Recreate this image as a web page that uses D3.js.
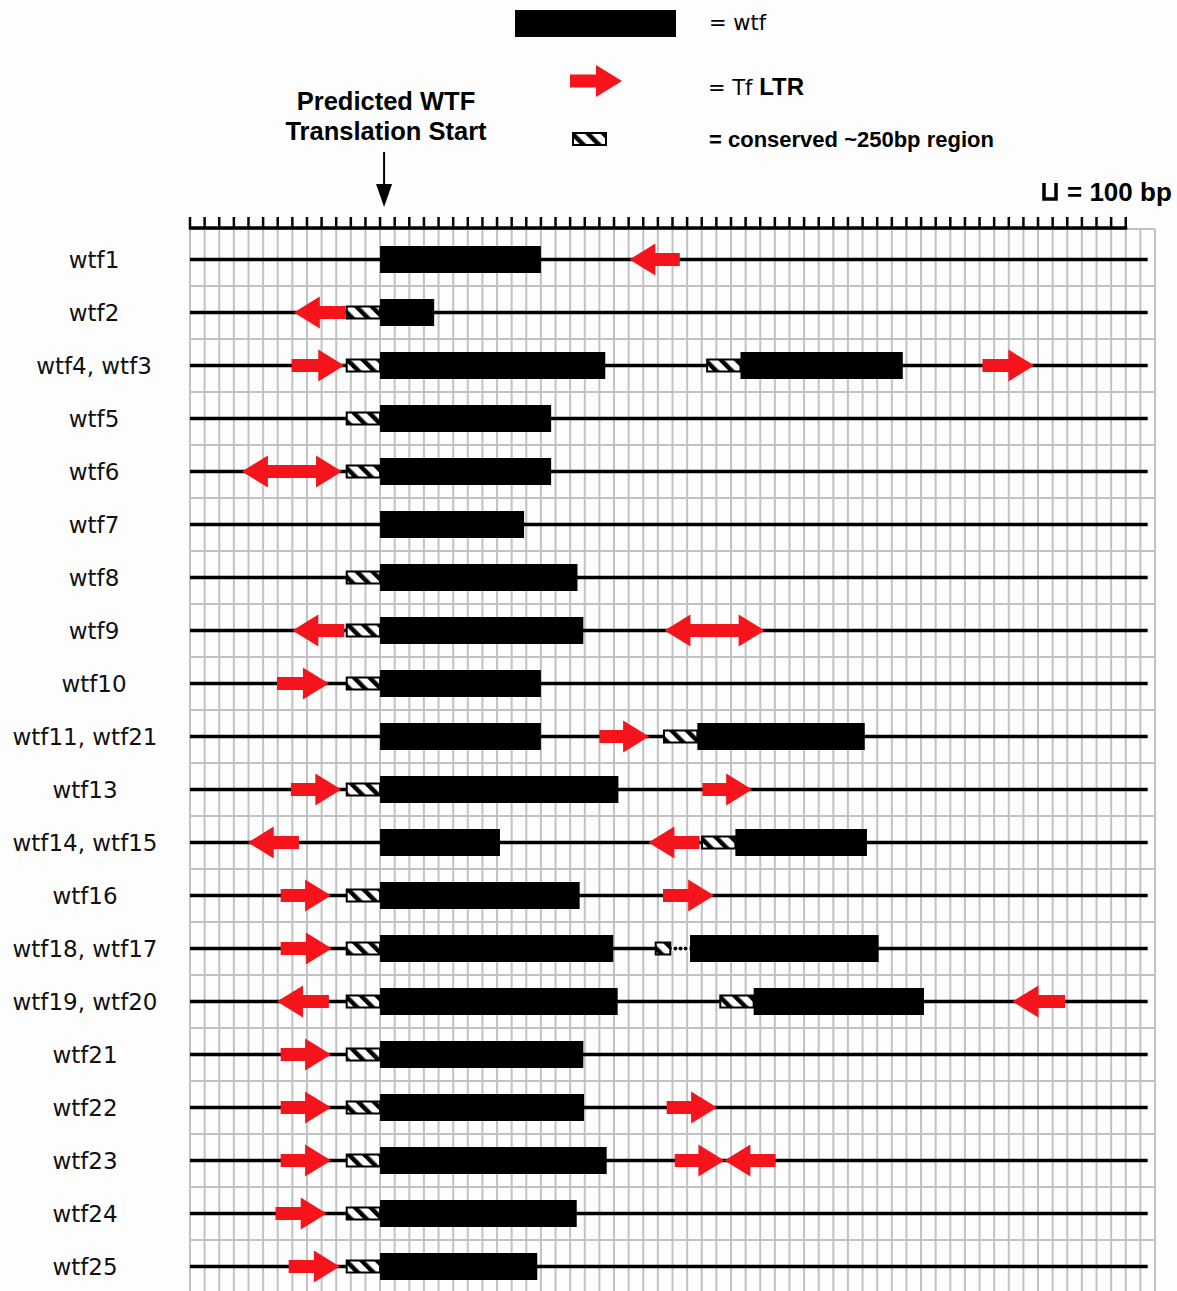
<!DOCTYPE html>
<html>
<head>
<meta charset="utf-8">
<script src="https://cdn.jsdelivr.net/npm/d3@7"></script>
<style>
  body { margin: 0; background: #fdfdfd; }
  svg { display: block; }
</style>
</head>
<body>
<div id="chart"></div>
<script>
// rows, top to bottom
var rows = ["wtf1", "wtf2", "wtf4, wtf3", "wtf5", "wtf6", "wtf7", "wtf8", "wtf9", "wtf10",
  "wtf11, wtf21", "wtf13", "wtf14, wtf15", "wtf16", "wtf18, wtf17", "wtf19, wtf20",
  "wtf21", "wtf22", "wtf23", "wtf24", "wtf25"];

// wtf coding regions, bp relative to predicted translation start
var wtfGenes = [
  ["wtf1", 0, 1100],
  ["wtf2", 0, 370],
  ["wtf4, wtf3", 0, 1540], ["wtf4, wtf3", 2465, 3575],
  ["wtf5", 0, 1170],
  ["wtf6", 0, 1170],
  ["wtf7", 0, 985],
  ["wtf8", 0, 1350],
  ["wtf9", 0, 1390],
  ["wtf10", 0, 1100],
  ["wtf11, wtf21", 0, 1100], ["wtf11, wtf21", 2170, 3315],
  ["wtf13", 0, 1630],
  ["wtf14, wtf15", 0, 820], ["wtf14, wtf15", 2430, 3330],
  ["wtf16", 0, 1365],
  ["wtf18, wtf17", 0, 1595], ["wtf18, wtf17", 2120, 3410],
  ["wtf19, wtf20", 0, 1625], ["wtf19, wtf20", 2555, 3720],
  ["wtf21", 0, 1390],
  ["wtf22", 0, 1395],
  ["wtf23", 0, 1550],
  ["wtf24", 0, 1345],
  ["wtf25", 0, 1075]
];

// conserved ~250bp regions
var conserved = [
  ["wtf2", -235, 0],
  ["wtf4, wtf3", -235, 0], ["wtf4, wtf3", 2230, 2465],
  ["wtf5", -235, 0],
  ["wtf6", -235, 0],
  ["wtf8", -235, 0],
  ["wtf9", -235, 0],
  ["wtf10", -235, 0],
  ["wtf11, wtf21", 1935, 2170],
  ["wtf13", -235, 0],
  ["wtf14, wtf15", 2195, 2430],
  ["wtf16", -235, 0],
  ["wtf18, wtf17", -235, 0],
  ["wtf19, wtf20", -235, 0], ["wtf19, wtf20", 2320, 2555],
  ["wtf21", -235, 0],
  ["wtf22", -235, 0],
  ["wtf23", -235, 0],
  ["wtf24", -235, 0],
  ["wtf25", -235, 0]
];

// partial conserved region (wtf18/wtf17) and its dotted gap
var partialConserved = [["wtf18, wtf17", 1885, 1985]];
var gapDots = [["wtf18, wtf17", 2020], ["wtf18, wtf17", 2055], ["wtf18, wtf17", 2090]];

// Tf LTRs: row, start, end, direction
var ltrs = [
  ["wtf1", 1705, 2050, "left"],
  ["wtf2", -590, -235, "left"],
  ["wtf4, wtf3", -605, -245, "right"], ["wtf4, wtf3", 4120, 4475, "right"],
  ["wtf6", -945, -260, "both"],
  ["wtf9", -600, -245, "left"], ["wtf9", 1945, 2630, "both"],
  ["wtf10", -705, -350, "right"],
  ["wtf11, wtf21", 1500, 1840, "right"],
  ["wtf13", -610, -265, "right"], ["wtf13", 2205, 2545, "right"],
  ["wtf14, wtf15", -905, -555, "left"], ["wtf14, wtf15", 1835, 2185, "left"],
  ["wtf16", -680, -335, "right"], ["wtf16", 1935, 2285, "right"],
  ["wtf18, wtf17", -680, -330, "right"],
  ["wtf19, wtf20", -705, -350, "left"], ["wtf19, wtf20", 4325, 4685, "left"],
  ["wtf21", -680, -335, "right"],
  ["wtf22", -680, -335, "right"], ["wtf22", 1960, 2305, "right"],
  ["wtf23", -680, -335, "right"], ["wtf23", 2015, 2355, "right"], ["wtf23", 2355, 2705, "left"],
  ["wtf24", -715, -365, "right"],
  ["wtf25", -625, -275, "right"]
];

var bpDomain = [-1300, 5300];
var lineEnd = 5250;
var scaleEnd = 5100;

var svgWidth = 1177, svgHeight = 1291;
var svg = d3.select("#chart").append("svg")
  .attr("width", svgWidth)
  .attr("height", svgHeight);

svg.append("rect").attr("width", svgWidth).attr("height", svgHeight).attr("fill", "#fdfdfd");

var x = d3.scaleLinear().domain(bpDomain).range([190, 1155]);
var y = d3.scaleBand().domain(rows).range([233, 1293]);
var cy = function(r) { return y(r) + y.bandwidth() / 2; };

// hatch pattern
var defs = svg.append("defs");
var pat = defs.append("pattern")
  .attr("id", "hatch")
  .attr("patternUnits", "userSpaceOnUse")
  .attr("width", 11).attr("height", 11)
  .attr("patternTransform", "rotate(-45)");
pat.append("rect").attr("width", 11).attr("height", 11).attr("fill", "#fff");
pat.append("rect").attr("width", 4.5).attr("height", 11).attr("fill", "#000");

// grid
var grid = svg.append("g");
grid.selectAll("line.v")
  .data(d3.range(bpDomain[0], bpDomain[1] + 1, 100))
  .enter().append("line")
  .attr("x1", d => x(d)).attr("x2", d => x(d))
  .attr("y1", 229).attr("y2", svgHeight)
  .attr("stroke", "#c2c2c2").attr("stroke-width", 2);
grid.selectAll("line.h")
  .data(rows.slice(1).map(r => y(r)).concat([229]))
  .enter().append("line")
  .attr("x1", 190).attr("x2", x(bpDomain[1]))
  .attr("y1", d => d).attr("y2", d => d)
  .attr("stroke", "#c2c2c2").attr("stroke-width", 2);

// scale bar with ticks
var scaleBar = svg.append("g");
scaleBar.append("line")
  .attr("x1", x(bpDomain[0]) - 1).attr("x2", x(scaleEnd) + 1.5)
  .attr("y1", 228).attr("y2", 228)
  .attr("stroke", "#000").attr("stroke-width", 3.5);
scaleBar.selectAll("line.t")
  .data(d3.range(bpDomain[0], scaleEnd + 1, 100))
  .enter().append("line")
  .attr("x1", d => x(d)).attr("x2", d => x(d))
  .attr("y1", 217).attr("y2", 229)
  .attr("stroke", "#000").attr("stroke-width", 2.5);

// row labels
svg.selectAll("text.row")
  .data(rows)
  .enter().append("text")
  .attr("x", (d, i) => i < 9 ? 94 : 85)
  .attr("y", d => cy(d) + 8)
  .attr("text-anchor", "middle")
  .style("font-family", "DejaVu Sans, sans-serif")
  .style("font-size", "23px")
  .attr("fill", "#111")
  .text(d => d);

// genomic lines
svg.selectAll("line.dna")
  .data(rows)
  .enter().append("line")
  .attr("x1", x(bpDomain[0])).attr("x2", x(lineEnd))
  .attr("y1", d => cy(d)).attr("y2", d => cy(d))
  .attr("stroke", "#000").attr("stroke-width", 3.5);

// wtf boxes
svg.selectAll("rect.wtf")
  .data(wtfGenes)
  .enter().append("rect")
  .attr("x", d => x(d[1]))
  .attr("width", d => x(d[2]) - x(d[1]))
  .attr("y", d => cy(d[0]) - 13.5)
  .attr("height", 27)
  .attr("fill", "#000");

// conserved regions
svg.selectAll("rect.cons")
  .data(conserved)
  .enter().append("rect")
  .attr("x", d => x(d[1]) + 1)
  .attr("width", d => x(d[2]) - x(d[1]) - 1)
  .attr("y", d => cy(d[0]) - 6)
  .attr("height", 12)
  .attr("fill", "url(#hatch)")
  .attr("stroke", "#000").attr("stroke-width", 2);

svg.selectAll("rect.partial")
  .data(partialConserved)
  .enter().append("rect")
  .attr("x", d => x(d[1]))
  .attr("width", d => x(d[2]) - x(d[1]))
  .attr("y", d => cy(d[0]) - 6)
  .attr("height", 12)
  .attr("fill", "url(#hatch)")
  .attr("stroke", "#000").attr("stroke-width", 2);

// white out line under the dotted gap, then dots
svg.selectAll("rect.gap")
  .data(partialConserved)
  .enter().append("rect")
  .attr("x", d => x(d[2]) + 1.5)
  .attr("width", x(2120) - x(1985) - 2)
  .attr("y", d => cy(d[0]) - 2.5)
  .attr("height", 5)
  .attr("fill", "#fdfdfd");
svg.selectAll("circle.dot")
  .data(gapDots)
  .enter().append("circle")
  .attr("cx", d => x(d[1]))
  .attr("cy", d => cy(d[0]))
  .attr("r", 2)
  .attr("fill", "#000");

// arrow path
function arrowPath(x0, x1, yc, dir) {
  var h = 26, hh = 16, sh = 6.5;
  var p = [];
  if (dir === "right") {
    p = [[x0, yc - sh], [x1 - h, yc - sh], [x1 - h, yc - hh], [x1, yc], [x1 - h, yc + hh], [x1 - h, yc + sh], [x0, yc + sh]];
  } else if (dir === "left") {
    p = [[x1, yc - sh], [x0 + h, yc - sh], [x0 + h, yc - hh], [x0, yc], [x0 + h, yc + hh], [x0 + h, yc + sh], [x1, yc + sh]];
  } else {
    p = [[x0, yc], [x0 + h, yc - hh], [x0 + h, yc - sh], [x1 - h, yc - sh], [x1 - h, yc - hh], [x1, yc],
      [x1 - h, yc + hh], [x1 - h, yc + sh], [x0 + h, yc + sh], [x0 + h, yc + hh]];
  }
  return "M" + p.map(q => q.join(",")).join("L") + "Z";
}

svg.selectAll("path.ltr")
  .data(ltrs)
  .enter().append("path")
  .attr("d", d => arrowPath(x(d[1]), x(d[2]), cy(d[0]), d[3]))
  .attr("fill", "#f5141c");

// legend
var font = "Liberation Sans, Arial, Helvetica, sans-serif";
svg.append("rect").attr("x", 515).attr("y", 10).attr("width", 161).attr("height", 27).attr("fill", "#000");
svg.append("text").attr("x", 709).attr("y", 30)
  .style("font-family", "DejaVu Sans, sans-serif").style("font-size", "21px").text("= wtf");

svg.append("path").attr("d", arrowPath(570, 622, 81, "right")).attr("fill", "#f5141c");
var ltrText = svg.append("text").attr("x", 708).attr("y", 95)
  .style("font-family", "DejaVu Sans, sans-serif").style("font-size", "21px");
ltrText.append("tspan").text("= Tf ");
ltrText.append("tspan").style("font-family", font).style("font-weight", "bold").style("font-size", "24px").text("LTR");

svg.append("rect").attr("x", 573).attr("y", 133).attr("width", 33).attr("height", 12)
  .attr("fill", "url(#hatch)").attr("stroke", "#000").attr("stroke-width", 2);
svg.append("text").attr("x", 709).attr("y", 147)
  .style("font-family", font).style("font-weight", "bold").style("font-size", "22px")
  .text("= conserved ~250bp region");

// translation start annotation
svg.append("text").attr("x", 386).attr("y", 110).attr("text-anchor", "middle")
  .style("font-family", font).style("font-weight", "bold").style("font-size", "25.5px")
  .text("Predicted WTF");
svg.append("text").attr("x", 386).attr("y", 140).attr("text-anchor", "middle")
  .style("font-family", font).style("font-weight", "bold").style("font-size", "25.5px")
  .text("Translation Start");
svg.append("line").attr("x1", x(0) + 4).attr("x2", x(0) + 4).attr("y1", 152).attr("y2", 188)
  .attr("stroke", "#000").attr("stroke-width", 2);
svg.append("path")
  .attr("d", "M" + (x(0) - 4) + ",184L" + (x(0) + 12) + ",184L" + (x(0) + 4) + ",207Z")
  .attr("fill", "#000");

// scale key
svg.append("path").attr("d", "M1044,183V199H1056V183")
  .attr("fill", "none").attr("stroke", "#000").attr("stroke-width", 3.5);
svg.append("text").attr("x", 1067).attr("y", 201)
  .style("font-family", font).style("font-weight", "bold").style("font-size", "26px")
  .text("= 100 bp");
</script>
</body>
</html>
